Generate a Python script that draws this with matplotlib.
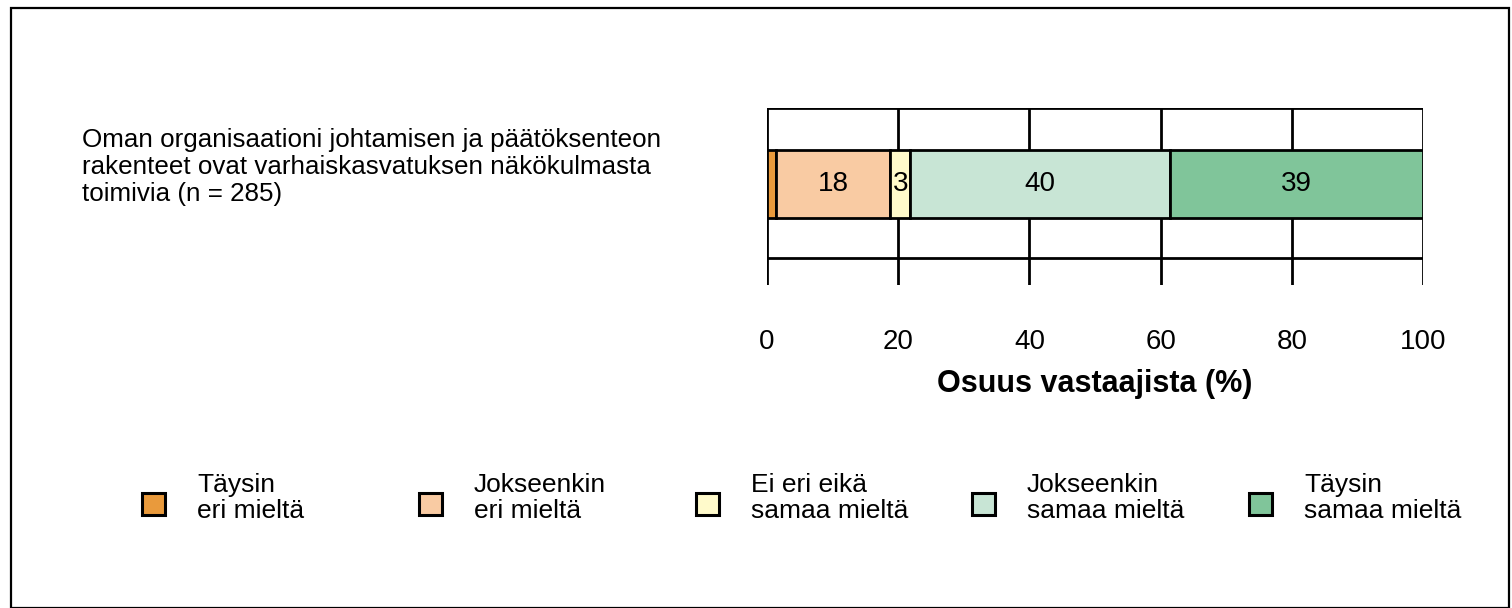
import matplotlib.pyplot as plt
from matplotlib.patches import Rectangle

plt.rcParams['font.family'] = ['Liberation Sans', 'DejaVu Sans']

# data
question = "Oman organisaationi johtamisen ja päätöksenteon\nrakenteet ovat varhaiskasvatuksen näkökulmasta\ntoimivia (n = 285)"
categories = ["Täysin\neri mieltä", "Jokseenkin\neri mieltä", "Ei eri eikä\nsamaa mieltä",
              "Jokseenkin\nsamaa mieltä", "Täysin\nsamaa mieltä"]
shares = [1.3, 17.5, 3.0, 39.6, 38.6]
colors = ["#E99A3C", "#F9CBA3", "#FFFACB", "#C8E5D5", "#80C59A"]
xticks = [0, 20, 40, 60, 80, 100]

W, H = 1512, 608
fig = plt.figure(figsize=(W / 100, H / 100), dpi=100)

# outer frame
fig.patches.append(Rectangle((11 / W, 0.0), 1498 / W, 1 - 8 / H, transform=fig.transFigure,
                             fill=False, edgecolor="black", linewidth=1.6))

ax = fig.add_axes([767 / W, 1 - 285 / H, 656 / W, 177 / H])
ax.set_xlim(0, 100)
ax.set_ylim(0, 1)
for s in ax.spines.values():
    s.set_visible(False)

# grid lines
for x in xticks:
    ax.axvline(x, color="black", linewidth=2.0, zorder=1)
for y in [1.0, 0.153]:
    ax.axhline(y, color="black", linewidth=2.0, zorder=1)

left = 0
for val, col in zip(shares, colors):
    ax.barh(0.571, val, left=left, height=0.384, color=col, edgecolor="black",
            linewidth=2.0, zorder=3)
    lab = int(val + 0.5)  # round half up
    if lab >= 2:
        ax.text(left + val / 2, 0.571, str(lab), ha="center", va="center",
                fontsize=20, zorder=4)
    left += val

ax.set_xticks(xticks)
ax.set_xticklabels([str(t) for t in xticks], fontsize=20)
ax.tick_params(axis="x", length=0, pad=32)
ax.set_yticks([])
ax.set_xlabel("Osuus vastaajista (%)", fontsize=22, fontweight="bold", labelpad=10)

fig.text(82 / W, 1 - 128 / H, question, ha="left", va="top", fontsize=18.7, linespacing=1.17)

# legend
leg_x = [153, 430, 707, 983, 1260]
for lx, lab, col in zip(leg_x, categories, colors):
    fig.patches.append(Rectangle(((lx - 11) / W, 1 - 515 / H), 23 / W, 22 / H,
                                 transform=fig.transFigure, facecolor=col,
                                 edgecolor="black", linewidth=2.2))
    fig.text((lx + 44) / W, 1 - 473 / H, lab, ha="left", va="top", fontsize=19,
             linespacing=1.13)

fig.savefig("out.png", dpi=100)
